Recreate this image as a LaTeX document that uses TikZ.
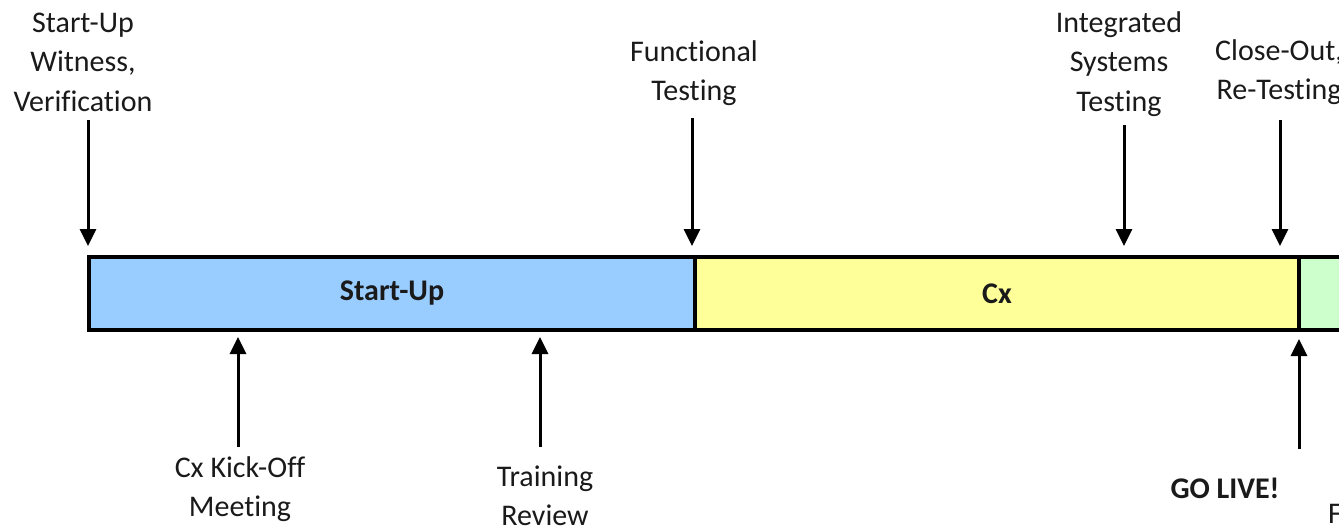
\documentclass[tikz,border=0pt]{standalone}
\usepackage{fontspec}
\setmainfont[Ligatures={NoCommon}]{Carlito}
\usetikzlibrary{arrows.meta}
\definecolor{subl}{HTML}{99CCFF}
\definecolor{cxyl}{HTML}{FFFF99}
\definecolor{gogr}{HTML}{CCFFCC}
\definecolor{txtc}{HTML}{1A1A1A}
\tikzset{
  seg/.style={draw=black, line width=4pt, minimum height=73pt, inner sep=0pt, outer sep=0pt, font=\fontsize{30}{39.5}\selectfont\bfseries, text=txtc},
  lbl/.style={align=center, inner sep=0pt, text=txtc},
  arr/.style={line width=3pt, -{Triangle[width=16pt,length=17pt]}},
}
\begin{document}
\begin{tikzpicture}[x=1pt,y=-1pt, font=\fontsize{30}{39.5}\selectfont]
\useasboundingbox (0,0) rectangle (1339,527);
\clip (0,0) rectangle (1339,527);
\fill[white] (0,0) rectangle (1339,527);
% bar
\node[seg, fill=subl, minimum width=606pt] (startup) at (392,293.5) {Start-Up};
\node[seg, fill=cxyl, minimum width=604pt] (cx) at (997,293.5) {Cx};
\node[seg, fill=gogr, minimum width=150pt, anchor=west] (live) at (1299,293.5) {};
% top labels
\node[lbl] (l1) at (83,62) {Start-Up\\Witness,\\Verification};
\node[lbl] (l2) at (694,73) {Functional\\Testing};
\node[lbl] (l3) at (1119,64) {Integrated\\Systems\\Testing};
\node[lbl] (l4) at (1279,72) {Close-Out,\\Re-Testing};
% bottom labels
\node[lbl] (b1) at (240,489) {Cx Kick-Off\\Meeting};
\node[lbl] (b2) at (545,496) {Training\\Review};
\node[lbl, font=\fontsize{30}{39.5}\selectfont\bfseries] (b3) at (1225,488) {GO LIVE!};
\node[lbl, anchor=west] (b4) at (1328,514) {F};
% arrow coordinates
\coordinate (d1s) at (88,120);  \coordinate (d1e) at (88,246);
\coordinate (d2s) at (692,118); \coordinate (d2e) at (692,246);
\coordinate (d3s) at (1124,125);\coordinate (d3e) at (1124,246);
\coordinate (d4s) at (1280,120);\coordinate (d4e) at (1280,246);
\coordinate (u1s) at (238,447); \coordinate (u1e) at (238,337);
\coordinate (u2s) at (540,447); \coordinate (u2e) at (540,337);
\coordinate (u3s) at (1299,449);\coordinate (u3e) at (1299,339);
\draw[arr] (d1s) -- (d1e);
\draw[arr] (d2s) -- (d2e);
\draw[arr] (d3s) -- (d3e);
\draw[arr] (d4s) -- (d4e);
\draw[arr] (u1s) -- (u1e);
\draw[arr] (u2s) -- (u2e);
\draw[arr] (u3s) -- (u3e);
\end{tikzpicture}
\end{document}
